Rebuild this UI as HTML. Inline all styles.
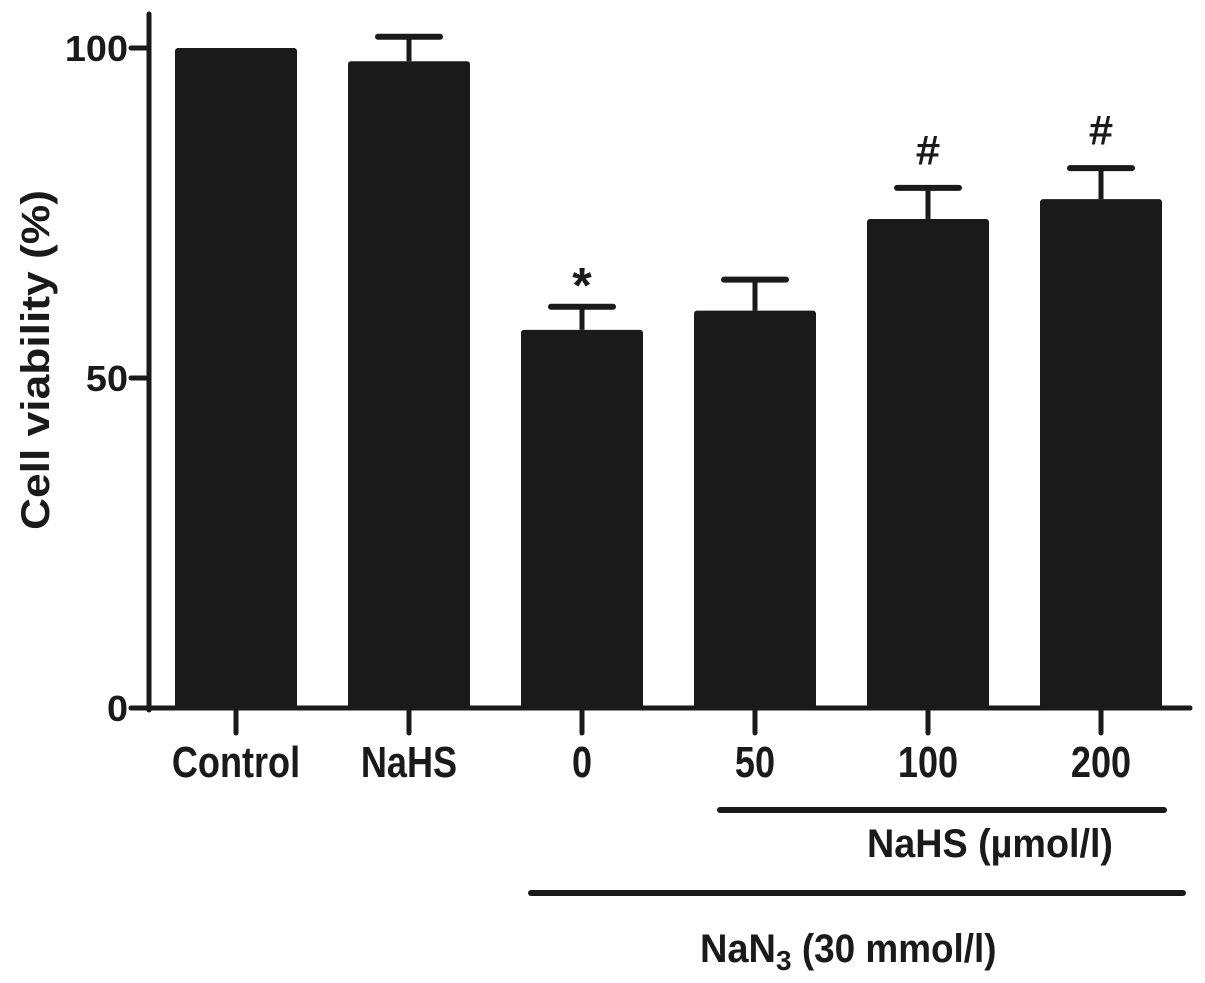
<!DOCTYPE html>
<html><head><meta charset="utf-8"><style>
html,body{margin:0;padding:0;background:#fff;}
svg{display:block;font-family:"Liberation Sans",Arial,sans-serif;font-weight:bold;}
</style></head><body>
<svg id="chart" width="1205" height="983" viewBox="0 0 1205 983" xmlns="http://www.w3.org/2000/svg">
<g id="plot"></g>
</svg>
<script>
const categories = ["Control","NaHS","0","50","100","200"];
const values = [100, 98, 57.3, 60.2, 74.1, 77.1];
const errors = [0, 3.7, 3.5, 4.7, 4.7, 4.7];
const marks = ["", "", "*", "", "#", "#"];
const yTicks = [0, 50, 100];

const NS = "http://www.w3.org/2000/svg";
const g = document.getElementById("plot");
const y0 = 708, pxPerUnit = 6.6;
const yScale = v => y0 - v * pxPerUnit;
const x0 = 236, step = 173;
const xScale = i => x0 + i * step;
const barW = 122, capW = 62, ink = "#1a1a1a";

function mk(tag, attrs) {
  const e = document.createElementNS(NS, tag);
  for (const k in attrs) e.setAttribute(k, attrs[k]);
  g.appendChild(e);
  return e;
}
function condensed(el, ratio) {
  const w = el.getComputedTextLength();
  el.setAttribute("textLength", w * ratio);
  el.setAttribute("lengthAdjust", "spacingAndGlyphs");
}

categories.forEach((c, i) => {
  const cx = xScale(i), top = yScale(values[i]);
  if (errors[i] > 0) {
    const et = yScale(values[i] + errors[i]);
    const l = mk("line", {x1: cx, x2: cx, y1: top, y2: et, stroke: ink, "stroke-width": 5});
    
    
    const cap = mk("line", {x1: cx - capW/2, x2: cx + capW/2, y1: et, y2: et, stroke: ink, "stroke-width": 6, "stroke-linecap": "round"});
    
    
  }
  const r = mk("rect", {x: cx - barW/2, y: top, width: barW, height: y0 - top, fill: ink, rx: 3});
  
  
  if (marks[i]) {
    const et = yScale(values[i] + errors[i]);
    const isStar = marks[i] === "*";
    const t = mk("text", {x: cx, y: isStar ? et - 4 : et - 24, "text-anchor": "middle", "font-size": isStar ? 50 : 40, "font-weight": isStar ? "bold" : "normal", fill: ink, stroke: isStar ? "none" : ink, "stroke-width": isStar ? 0 : 1});
    t.textContent = marks[i];
    
    
  }
  const tk = mk("line", {x1: cx, x2: cx, y1: y0, y2: 733, stroke: ink, "stroke-width": 5, "stroke-linecap": "round"});
  
  
  const lb = mk("text", {x: cx, y: 777, "text-anchor": "middle", "font-size": 44, fill: ink});
  lb.textContent = c;
  
  
  condensed(lb, 0.82);
});

yTicks.forEach(v => {
  const y = yScale(v);
  const t = mk("line", {x1: 131, x2: 149, y1: y, y2: y, stroke: ink, "stroke-width": 5, "stroke-linecap": "round"});
  
  
  const lb = mk("text", {x: 128, y: y + 13, "text-anchor": "end", "font-size": 36, fill: ink});
  lb.textContent = v;
  
  
  condensed(lb, 1.05);
});

const ya = mk("line", {x1: 149, x2: 149, y1: 14, y2: 710, stroke: ink, "stroke-width": 5, "stroke-linecap": "round"});


const xa = mk("line", {x1: 147, x2: 1190, y1: 708, y2: 708, stroke: ink, "stroke-width": 5, "stroke-linecap": "round"});



const yt = mk("text", {x: 0, y: 0, transform: "translate(49,360) rotate(-90)", "text-anchor": "middle", "font-size": 40, fill: ink});
yt.textContent = "Cell viability (%)";


yt.setAttribute("textLength", 340);
yt.setAttribute("lengthAdjust", "spacingAndGlyphs");

const l1 = mk("line", {x1: 720, x2: 1164, y1: 810, y2: 810, stroke: ink, "stroke-width": 6, "stroke-linecap": "round"});


const t1 = mk("text", {x: 867, y: 857, "font-size": 40, fill: ink, textLength: 246, lengthAdjust: "spacingAndGlyphs"});
t1.textContent = "NaHS (µmol/l)";


const l2 = mk("line", {x1: 531, x2: 1183, y1: 893, y2: 893, stroke: ink, "stroke-width": 6, "stroke-linecap": "round"});


const t2 = mk("text", {x: 700, y: 962, "font-size": 40, fill: ink});
t2.innerHTML = '<tspan textLength="76" lengthAdjust="spacingAndGlyphs">NaN</tspan><tspan font-size="28" dy="8">3</tspan><tspan dy="-8" textLength="205" lengthAdjust="spacingAndGlyphs"> (30 mmol/l)</tspan>';


</script>
</body></html>
